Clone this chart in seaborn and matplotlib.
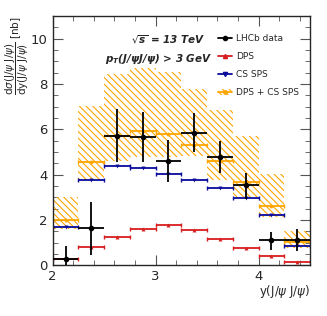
import numpy as np
import pandas as pd
import matplotlib
matplotlib.use("Agg")
import matplotlib.pyplot as plt
from matplotlib.lines import Line2D
from matplotlib.patches import Patch
import seaborn as sns

# bin edges of y(J/psi J/psi)
bin_lo = [2.0, 2.25, 2.5, 2.75, 3.0, 3.25, 3.5, 3.75, 4.0, 4.25]
bin_hi = [2.25, 2.5, 2.75, 3.0, 3.25, 3.5, 3.75, 4.0, 4.25, 4.5]

# LHCb data
data_val = [0.29, 1.63, 5.73, 5.66, 4.60, 5.85, 4.78, 3.53, 1.11, 1.12]
data_up = [0.86, 2.80, 6.90, 6.79, 5.54, 6.73, 5.47, 4.08, 1.48, 1.60]
data_dn = [-0.3, 0.45, 4.56, 4.56, 3.68, 5.00, 4.09, 2.95, 0.70, 0.64]

# models
dps = [0.29, 0.82, 1.26, 1.60, 1.77, 1.55, 1.16, 0.75, 0.41, 0.13]
cs_sps = [1.71, 3.75, 4.37, 4.31, 4.03, 3.75, 3.42, 2.96, 2.21, 0.85]
total = [2.02, 4.57, 5.71, 5.91, 5.81, 5.32, 4.60, 3.70, 2.61, 1.02]
total_hi = [3.02, 7.02, 8.45, 8.69, 8.52, 7.79, 6.84, 5.73, 4.02, 1.51]
total_lo = [1.60, 3.75, 4.62, 4.80, 4.80, 4.85, 3.75, 3.02, 2.14, 0.79]

lo = np.array(bin_lo)
hi = np.array(bin_hi)
xc = (lo + hi) / 2
xw = (hi - lo) / 2

df = pd.DataFrame({"y": xc, "DPS": dps, "CS SPS": cs_sps, "DPS + CS SPS": total})

sns.set_style("ticks")
plt.rcParams["font.family"] = ["DejaVu Sans"]
plt.rcParams["hatch.linewidth"] = 0.8

fig = plt.figure(figsize=(3.27, 3.16), dpi=100)
ax = fig.add_axes([0.161, 0.160, 0.787, 0.789])

orange = "#ffa500"
red = "#d81e1e"
blue = "#0a0a9c"
hatch = "\\\\\\\\\\"

# uncertainty band
ax.bar(xc, np.array(total_hi) - np.array(total_lo), bottom=total_lo, width=hi - lo,
       fill=False, hatch=hatch, edgecolor=orange, linewidth=0, zorder=1)

for col, c, m in [("DPS + CS SPS", orange, "o"), ("DPS", red, "^"), ("CS SPS", blue, "v")]:
    ax.errorbar(df["y"], df[col], xerr=xw, fmt="none", ecolor=c, elinewidth=1.3,
                capsize=1.5, capthick=1.0, zorder=2)
    sns.scatterplot(x="y", y=col, data=df, ax=ax, color=c, marker=m, s=8,
                    edgecolor=c, linewidth=0, zorder=3)

dv = np.array(data_val)
ax.errorbar(xc, dv, xerr=xw, yerr=[dv - np.array(data_dn), np.array(data_up) - dv],
            fmt="o", color="black", ms=3, elinewidth=1.3, capsize=0, zorder=4)

ax.set_xlim(2, 4.5)
ax.set_ylim(0, 11)
ax.set_xticks([2, 3, 4])
ax.set_xticks(np.arange(2, 4.51, 0.2), minor=True)
ax.set_yticks([0, 2, 4, 6, 8, 10])
ax.set_yticks(np.arange(0, 11.01, 0.5), minor=True)
ax.tick_params(which="both", direction="in", top=True, right=True, labelsize=9.5, color="#555555")
ax.tick_params(which="major", length=7)
ax.tick_params(which="minor", length=3.5)
for s in ax.spines.values():
    s.set_linewidth(1.0)
ax.set_xlabel("")
ax.set_ylabel("")

fig.text(0.054, 0.948,
         r"$\dfrac{\mathrm{d}\sigma(\mathrm{J}/\psi\ \mathrm{J}/\psi)}{\mathrm{dy}(\mathrm{J}/\psi\ \mathrm{J}/\psi)}$ [nb]",
         rotation=90, ha="center", va="top", fontsize=7.5)
fig.text(0.948, 0.076, r"y(J/$\psi$ J/$\psi$)", ha="right", va="center", fontsize=8.5)

ax.text(0.45, 0.905, r"$\sqrt{\mathbfit{s}}$ = 13 TeV", transform=ax.transAxes, ha="center",
        va="center", fontsize=7.5, fontweight="bold", style="italic")
ax.text(0.41, 0.83, r"$\mathbfit{p}_{\mathbfit{T}}\mathbfit{(J/\psi J/\psi)}$ > 3 GeV", transform=ax.transAxes,
        ha="center", va="center", fontsize=7.5, fontweight="bold", style="italic")

handles = [
    Line2D([], [], color="black", marker="o", ms=3, lw=1.3),
    Line2D([], [], color=red, marker="^", ms=3, lw=1.3),
    Line2D([], [], color=blue, marker="v", ms=3, lw=1.3),
    (Patch(facecolor="none", edgecolor=orange, hatch=hatch, lw=0),
     Line2D([], [], color=orange, marker="o", ms=2.5, lw=1.3)),
]
labels = ["LHCb data", "DPS", "CS SPS", "DPS + CS SPS"]
ax.legend(handles, labels, loc="upper left", bbox_to_anchor=(0.61, 0.96), frameon=False,
          fontsize=6.5, handlelength=1.6, handletextpad=0.4, labelspacing=1.0)

fig.savefig("out.png", dpi=100)
